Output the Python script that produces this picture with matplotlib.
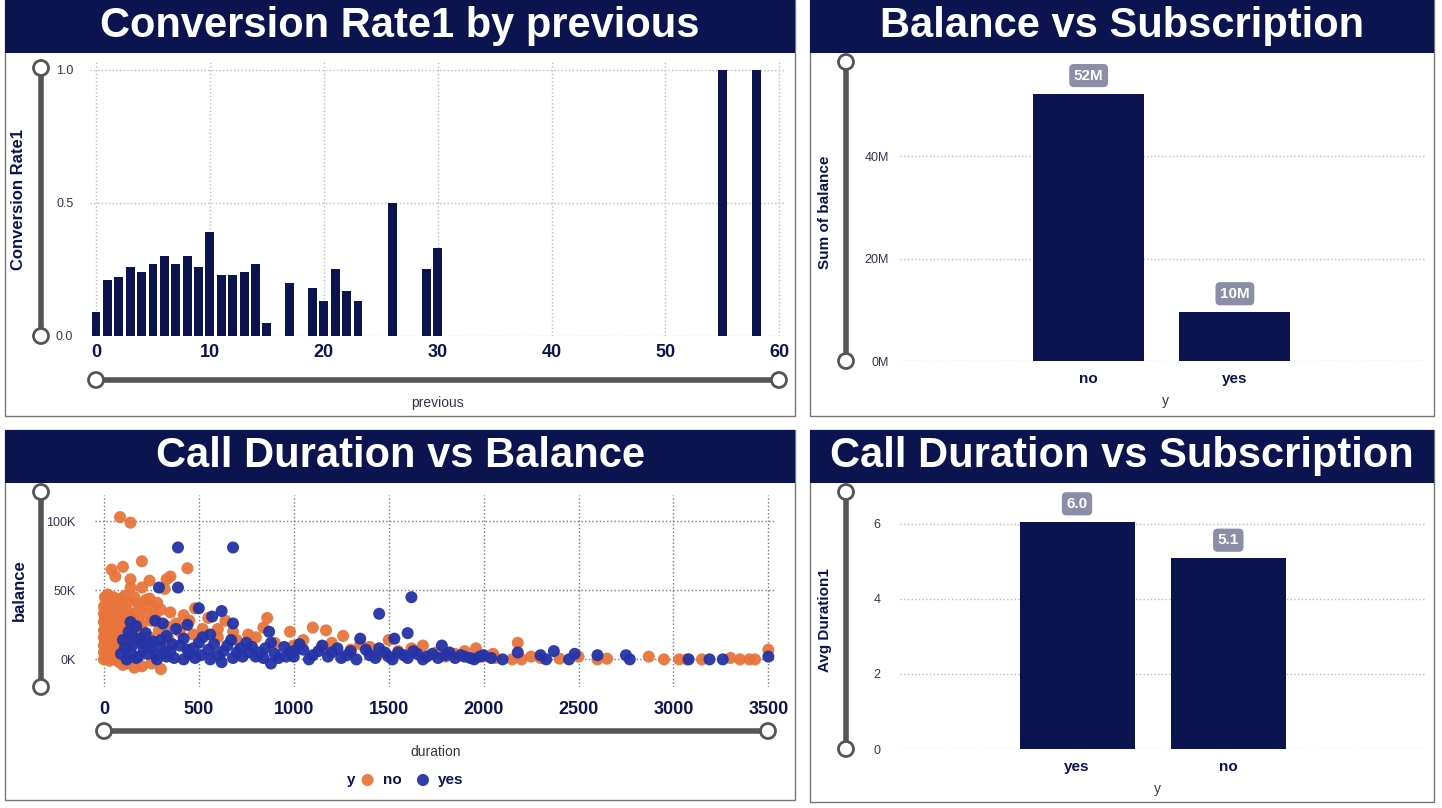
"""Dashboard-style plots for bank marketing subscription analysis."""

from __future__ import annotations

import matplotlib

matplotlib.use("Agg")

import matplotlib.pyplot as plt  # noqa: E402
from matplotlib.lines import Line2D  # noqa: E402
from matplotlib.patches import Rectangle, Ellipse  # noqa: E402

WIDTH, HEIGHT = 1442, 808
NAVY = "#0c1450"
ORANGE = "#e8743b"
BLUE = "#2433a6"
SLIDER = "#555555"

plt.rcParams["font.family"] = ["Liberation Sans", "DejaVu Sans"]


def _box(left: float, top: float, width: float, height: float) -> list[float]:
    """Convert a pixel box (top-left origin) into figure fractions."""
    return [left / WIDTH, 1 - (top + height) / HEIGHT, width / WIDTH, height / HEIGHT]


def _fx(x: float) -> float:
    return x / WIDTH


def _fy(y: float) -> float:
    return 1 - y / HEIGHT


def _panel(fig, left: float, top: float, right: float, bottom: float, title: str) -> None:
    """Draw the panel frame and the navy title bar."""
    fig.add_artist(Rectangle((_fx(left), _fy(bottom)), _fx(right - left), (bottom - top) / HEIGHT,
                             transform=fig.transFigure, facecolor="white", edgecolor="#777777",
                             linewidth=1.0, zorder=0))
    fig.add_artist(Rectangle((_fx(left), _fy(top + 53)), _fx(right - left), 53 / HEIGHT,
                             transform=fig.transFigure, facecolor=NAVY, edgecolor="none", zorder=1))
    fig.text(_fx((left + right) / 2), _fy(top + 26), title, color="white", fontsize=30,
             fontweight="bold", ha="center", va="center", zorder=2)


def _slider(fig, x0: float, y0: float, x1: float, y1: float) -> None:
    """Draw a Power BI style zoom slider with two round handles."""
    fig.add_artist(Line2D([_fx(x0), _fx(x1)], [_fy(y0), _fy(y1)], transform=fig.transFigure,
                          color=SLIDER, linewidth=4, solid_capstyle="butt", zorder=3))
    for x, y in ((x0, y0), (x1, y1)):
        fig.add_artist(Ellipse((_fx(x), _fy(y)), 15 / WIDTH, 15 / HEIGHT, transform=fig.transFigure,
                               facecolor="white", edgecolor=SLIDER, linewidth=2, zorder=4))


def _style_axis(ax, xgrid: bool = True, pad: float = 14) -> None:
    for spine in ax.spines.values():
        spine.set_visible(False)
    ax.grid(True, axis="y", linestyle=":", color="#bbbbbb", linewidth=1)
    if xgrid:
        ax.grid(True, axis="x", linestyle=":", color="#bbbbbb", linewidth=1)
    ax.set_axisbelow(True)
    ax.tick_params(length=0)
    ax.tick_params(axis="y", labelsize=9, labelcolor="#333355", pad=pad)


def _bar_labels(ax, bars, texts: list[str]) -> None:
    for bar, text in zip(bars, texts):
        ax.annotate(text, (bar.get_x() + bar.get_width() / 2, bar.get_height()),
                    xytext=(0, 8), textcoords="offset points", ha="center", va="bottom",
                    color="white", fontsize=11, fontweight="bold",
                    bbox=dict(boxstyle="round,pad=0.3", facecolor="#8c8ea8", edgecolor="none"))


def plot_conversion_rate(fig) -> None:
    """Conversion rate by number of previous contacts."""
    previous = [0, 1, 2, 3, 4, 5, 6, 7, 8, 9, 10, 11, 12, 13, 14, 15, 17, 19, 20, 21, 22, 23,
                26, 29, 30, 55, 58]
    rate = [0.09, 0.21, 0.22, 0.26, 0.24, 0.27, 0.30, 0.27, 0.30, 0.26, 0.39, 0.23, 0.23, 0.24,
            0.27, 0.05, 0.20, 0.18, 0.13, 0.25, 0.17, 0.13, 0.50, 0.25, 0.33, 1.0, 1.0]

    _panel(fig, 5, 0, 795, 416, "Conversion Rate1 by previous")
    ax = fig.add_axes(_box(90, 62, 695, 274))
    ax.bar(previous, rate, width=0.78, color=NAVY)
    ax.set_xlim(-0.53, 60.5)
    ax.set_ylim(0, 1.03)
    ax.set_xticks([0, 10, 20, 30, 40, 50, 60])
    ax.set_yticks([0, 0.5, 1.0])
    ax.set_yticklabels(["0.0", "0.5", "1.0"])
    _style_axis(ax, pad=12)
    ax.tick_params(axis="x", labelsize=13, labelcolor=NAVY, pad=6)
    for label in ax.get_xticklabels():
        label.set_fontweight("bold")
    fig.text(_fx(19), _fy(200), "Conversion Rate1", rotation=90, ha="center", va="center",
             fontsize=12, fontweight="bold", color=NAVY)
    fig.text(_fx(437), _fy(403), "previous", ha="center", va="center", fontsize=10, color="#333344")
    _slider(fig, 41, 68, 41, 336)
    _slider(fig, 96, 380, 779, 380)


def plot_balance(fig) -> None:
    """Total balance by subscription outcome."""
    outcome = ["no", "yes"]
    balance = [52.2e6, 9.6e6]

    _panel(fig, 810, 0, 1434, 416, "Balance vs Subscription")
    ax = fig.add_axes(_box(900, 65, 525, 296))
    bars = ax.bar(outcome, balance, width=0.76, color=NAVY)
    ax.set_xlim(-1.29, 2.3)
    ax.set_ylim(0, 57.8e6)
    ax.set_yticks([0, 20e6, 40e6])
    ax.set_yticklabels(["0M", "20M", "40M"])
    _style_axis(ax, xgrid=False, pad=8)
    ax.tick_params(axis="x", labelsize=11, labelcolor=NAVY, pad=8)
    for label in ax.get_xticklabels():
        label.set_fontweight("bold")
    _bar_labels(ax, bars, ["52M", "10M"])
    fig.text(_fx(825), _fy(212), "Sum of balance", rotation=90, ha="center", va="center",
             fontsize=11, fontweight="bold", color=NAVY)
    fig.text(_fx(1165), _fy(401), "y", ha="center", va="center", fontsize=10, color="#333344")
    _slider(fig, 846, 62, 846, 361)


def plot_duration_balance(fig) -> None:
    """Call duration against account balance, coloured by outcome."""
    no_points = [
        (85, 103000), (140, 99000), (40, 65000), (100, 67000), (200, 71000), (60, 60000),
        (140, 58000), (240, 57000), (330, 58000), (350, 60000), (440, 66000), (140, 52000),
        (200, 52000), (320, 51000), (20, 47000), (50, 45000), (90, 44000), (130, 42000),
        (180, 40000), (220, 43000), (260, 38000), (300, 36000), (350, 34000), (420, 32000),
        (480, 37000), (550, 30000), (640, 28000), (860, 30000), (840, 23000), (980, 20000),
        (1100, 23000), (1170, 21000), (1260, 17000), (1500, 14000), (1680, 10000), (2180, 12000),
        (1960, 8000), (10, 40000), (15, 35000), (5, 30000), (25, 26000), (10, 22000),
        (30, 18000), (5, 14000), (20, 10000), (40, 6000), (10, 2000), (60, 0), (80, -2000),
        (200, -5000), (300, -7000), (120, -3000), (70, 20000), (110, 30000), (160, 33000),
        (250, 28000), (330, 24000), (400, 20000), (470, 18000), (520, 22000), (600, 16000),
        (700, 14000), (760, 18000), (900, 12000), (1000, 10000), (1150, 9000), (1300, 7000),
        (1400, 9000), (1550, 6000), (1750, 5000), (1850, 4000), (2000, 2000), (2060, 1000),
        (2200, 0), (2300, 1000), (2400, 500), (2650, 500), (2870, 2000), (3030, 0), (3070, 0),
        (3150, 0), (3300, 1000), (3350, 0), (3400, 0), (3430, 0), (3500, 7000), (2500, 2000),
        (2600, 0), (2950, 0), (60, 35000), (100, 38000), (40, 28000), (90, 12000), (20, 5000),
        (5, 45000), (30, 42000), (70, 40000), (110, 46000), (160, 45000), (200, 38000),
        (240, 44000), (280, 41000), (0, 38000), (45, 36000), (85, 32000), (125, 35000),
        (180, 30000), (225, 33000), (270, 31000), (0, 33000), (35, 31000), (75, 27000),
        (115, 25000), (155, 28000), (200, 25000), (290, 21000), (0, 27000), (55, 24000),
        (95, 21000), (140, 18000), (185, 20000), (240, 16000), (340, 15000), (0, 21000),
        (40, 20000), (60, 15000), (110, 16000), (150, 13000), (0, 16000), (35, 12000),
        (70, 9000), (120, 8000), (0, 10000), (25, 8000), (55, 3000), (0, 5000), (0, 0),
        (30, -1000), (100, -4000), (160, -6000), (250, -3000), (380, 26000), (450, 28000),
        (600, 22000), (680, 20000), (800, 16000), (1050, 14000), (1200, 12000), (1350, 11000),
        (1450, 4000), (1620, 8000), (1800, 2000), (1900, 6000), (2050, 4000), (2150, 0),
        (2250, 2000),
    ]
    yes_points = [
        (390, 81000), (680, 81000), (290, 52000), (390, 52000), (1620, 45000), (1450, 33000),
        (500, 37000), (620, 35000), (570, 31000), (680, 26000), (1600, 19000), (870, 20000),
        (1350, 15000), (1530, 15000), (1780, 10000), (2180, 5000), (2370, 6000), (2480, 4000),
        (2600, 3000), (2750, 3000), (2770, 0), (3080, 0), (3190, 0), (3260, 0), (3500, 2000),
        (2300, 3000), (2450, 0), (2100, 0), (2330, 0), (2040, 1000), (140, 27000), (170, 24000),
        (130, 20000), (270, 28000), (310, 26000), (380, 22000), (440, 25000), (560, 18000),
        (100, 14000), (150, 10000), (200, 12000), (250, 8000), (300, 14000), (350, 6000),
        (400, 10000), (450, 4000), (500, 12000), (550, 7000), (600, 3000), (650, 10000),
        (700, 5000), (750, 12000), (800, 2000), (850, 8000), (900, 4000), (950, 9000),
        (1000, 2000), (1050, 7000), (1100, 3000), (1150, 10000), (1200, 5000), (1250, 1000),
        (1300, 6000), (1400, 3000), (1450, 8000), (1500, 2000), (1550, 5000), (1600, 1000),
        (1650, 4000), (1700, 2000), (1800, 3000), (1850, 1000), (1900, 2000), (1950, 0),
        (2000, 3000), (90, 4000), (120, 0), (180, 2000), (230, 4000), (280, 0), (330, 2000),
        (420, 0), (480, 1000), (620, -2000), (880, -3000), (1000, 6000), (720, 8000),
        (150, 17000), (190, 15000), (220, 19000), (260, 13000), (300, 9000), (330, 17000),
        (360, 11000), (420, 15000), (470, 8000), (520, 16000), (580, 11000), (630, 6000),
        (670, 14000), (730, 2000), (780, 9000), (820, 5000), (880, 12000), (920, 1000),
        (980, 5000), (1030, 11000), (1080, 0), (1130, 6000), (1180, 2000), (1230, 8000),
        (1280, 3000), (1330, 0), (1380, 7000), (1430, 1000), (1480, 5000), (1520, 0),
        (1580, 3000), (1630, 6000), (1680, 0), (1730, 4000), (1760, 1000), (1820, 5000),
        (1880, 3000), (1930, 1000), (1980, 2000), (110, 8000), (140, 5000), (170, 1000),
        (210, 7000), (240, 11000), (270, 3000), (320, 5000), (370, 1000), (440, 7000),
        (510, 3000), (560, 0), (680, 1000), (760, 5000), (840, 1000), (960, 2000),
    ]

    _panel(fig, 5, 430, 795, 800, "Call Duration vs Balance")
    ax = fig.add_axes(_box(95, 495, 680, 192))
    ax.scatter([p[0] for p in no_points], [p[1] for p in no_points], s=75, color=ORANGE,
               alpha=0.95, edgecolors="none", label="no")
    ax.scatter([p[0] for p in yes_points], [p[1] for p in yes_points], s=75, color=BLUE,
               alpha=0.95, edgecolors="none", label="yes")
    ax.set_xlim(-47, 3535)
    ax.set_ylim(-20000, 119000)
    ax.set_xticks(range(0, 3501, 500))
    ax.set_yticks([0, 50000, 100000])
    ax.set_yticklabels(["0K", "50K", "100K"])
    _style_axis(ax)
    ax.grid(True, linestyle=":", color="#777777", linewidth=1)
    ax.tick_params(axis="x", labelsize=13, labelcolor=NAVY, pad=10)
    for label in ax.get_xticklabels():
        label.set_fontweight("bold")
    fig.text(_fx(19), _fy(590), "balance", rotation=90, ha="center", va="center",
             fontsize=12, fontweight="bold", color=NAVY)
    fig.text(_fx(436), _fy(752), "duration", ha="center", va="center", fontsize=10, color="#333344")
    fig.text(_fx(351), _fy(780), "y", ha="center", va="center", fontsize=11, fontweight="bold",
             color=NAVY)
    legend = ax.legend(loc="center", bbox_to_anchor=(_fx(408), _fy(780)),
                       bbox_transform=fig.transFigure, ncol=2, frameon=False,
                       handletextpad=0.0, columnspacing=0.4, fontsize=11, borderpad=0)
    for text in legend.get_texts():
        text.set_fontweight("bold")
        text.set_color(NAVY)
    _slider(fig, 41, 492, 41, 687)
    _slider(fig, 104, 731, 768, 731)


def plot_duration_subscription(fig) -> None:
    """Average call duration by subscription outcome."""
    outcome = ["yes", "no"]
    duration = [6.05, 5.08]

    _panel(fig, 810, 430, 1434, 802, "Call Duration vs Subscription")
    ax = fig.add_axes(_box(900, 490, 525, 259))
    bars = ax.bar(outcome, duration, width=0.76, color=NAVY)
    ax.set_xlim(-1.17, 2.3)
    ax.set_ylim(0, 6.9)
    ax.set_yticks([0, 2, 4, 6])
    _style_axis(ax, xgrid=False, pad=14)
    ax.tick_params(axis="x", labelsize=11, labelcolor=NAVY, pad=8)
    for label in ax.get_xticklabels():
        label.set_fontweight("bold")
    _bar_labels(ax, bars, ["6.0", "5.1"])
    fig.text(_fx(825), _fy(620), "Avg Duration1", rotation=90, ha="center", va="center",
             fontsize=11, fontweight="bold", color=NAVY)
    fig.text(_fx(1157), _fy(789), "y", ha="center", va="center", fontsize=10, color="#333344")
    _slider(fig, 846, 492, 846, 749)


def save_dashboard(path: str = "out.png") -> str:
    """Draw all four panels into one dashboard image."""
    fig = plt.figure(figsize=(WIDTH / 100, HEIGHT / 100), dpi=100)
    plot_conversion_rate(fig)
    plot_balance(fig)
    plot_duration_balance(fig)
    plot_duration_subscription(fig)
    fig.savefig(path, dpi=100)
    plt.close(fig)
    return path


save_dashboard()
